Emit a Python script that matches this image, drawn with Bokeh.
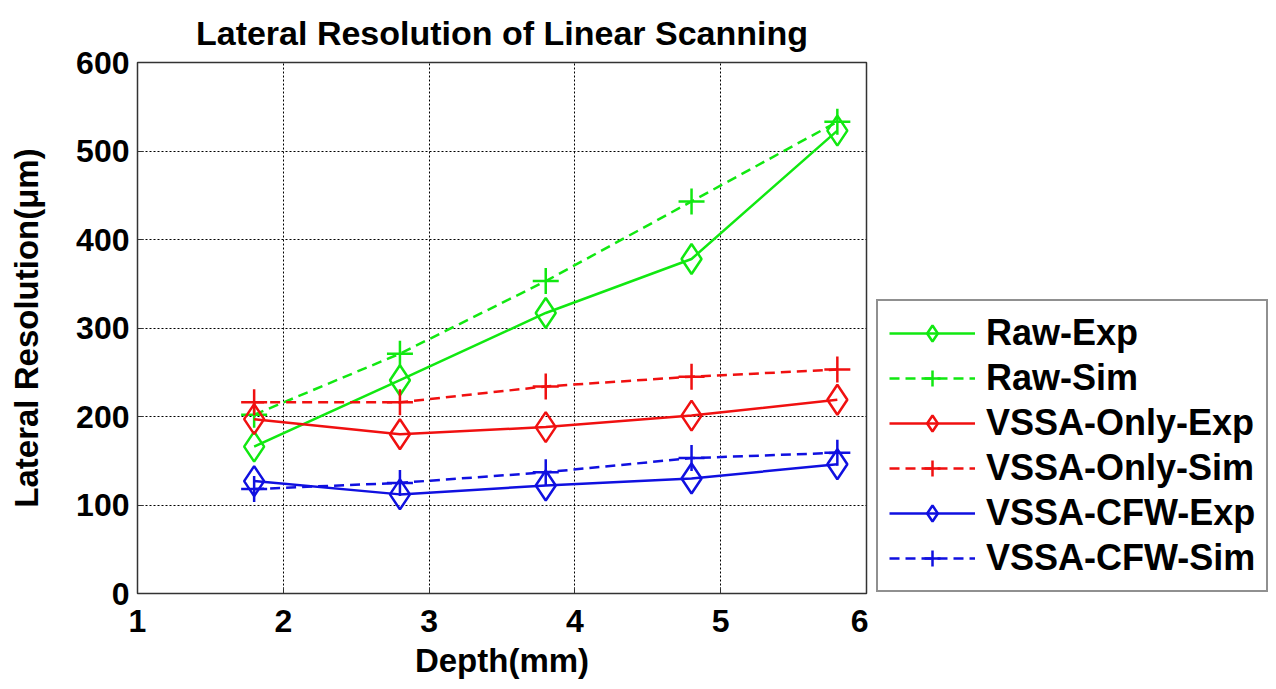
from bokeh.plotting import figure
from bokeh.models import Legend, LegendItem, FixedTicker, Range1d
from bokeh.layouts import row
from bokeh.embed import file_html
from bokeh.resources import INLINE

depth = [1.8, 2.8, 3.8, 4.8, 5.8]
raw_exp = [166, 241, 317, 378, 523]
raw_sim = [202, 271, 353, 443, 533]
vssa_only_exp = [197, 180, 188, 201, 219]
vssa_only_sim = [216, 216, 234, 245, 253]
vssa_cfw_exp = [127, 112, 122, 130, 146]
vssa_cfw_sim = [118, 125, 137, 153, 159]

series = [
    ("Raw-Exp", raw_exp, "#11e811", "solid", "diamond"),
    ("Raw-Sim", raw_sim, "#11e811", "10 6", "cross"),
    ("VSSA-Only-Exp", vssa_only_exp, "#f01010", "solid", "diamond"),
    ("VSSA-Only-Sim", vssa_only_sim, "#f01010", "10 6", "cross"),
    ("VSSA-CFW-Exp", vssa_cfw_exp, "#1010e0", "solid", "diamond"),
    ("VSSA-CFW-Sim", vssa_cfw_sim, "#1010e0", "10 6", "cross"),
]

FONT = "Liberation Sans"
H = 689

p = figure(width=868, height=H, output_backend="svg", toolbar_location=None,
           x_range=Range1d(1, 6), y_range=Range1d(0, 600),
           min_border_left=137, min_border_right=2, min_border_top=62,
           min_border_bottom=96, title="Lateral Resolution of Linear Scanning")
p.title.text_font = FONT
p.title.text_font_size = "34px"
p.title.text_font_style = "bold"
p.title.align = "center"
p.title.text_color = "black"
p.title.standoff = 22

p.outline_line_color = "#333333"
p.outline_line_width = 1.5

for ax in (p.xaxis[0], p.yaxis[0]):
    ax.major_label_text_font = FONT
    ax.major_label_text_font_size = "32px"
    ax.major_label_text_font_style = "bold"
    ax.major_label_text_color = "black"
    ax.axis_label_text_font = FONT
    ax.axis_label_text_font_size = "33px"
    ax.axis_label_text_font_style = "bold"
    ax.axis_label_text_color = "black"
    ax.major_tick_in = 6
    ax.major_tick_out = 0
    ax.minor_tick_line_color = None
    ax.axis_line_color = "#333333"
    ax.major_tick_line_color = "#333333"

p.xaxis[0].ticker = FixedTicker(ticks=[1, 2, 3, 4, 5, 6])
p.yaxis[0].ticker = FixedTicker(ticks=[0, 100, 200, 300, 400, 500, 600])
p.xaxis[0].axis_label = "Depth(mm)"
p.yaxis[0].axis_label = "Lateral Resolution(\u03bcm)"
p.xaxis[0].major_label_standoff = 16
p.xaxis[0].axis_label_standoff = 7
p.yaxis[0].major_label_standoff = 8
p.yaxis[0].axis_label_standoff = 28

p.xgrid.ticker = FixedTicker(ticks=[2, 3, 4, 5])
p.ygrid.ticker = FixedTicker(ticks=[100, 200, 300, 400, 500])
for g in (p.xgrid[0], p.ygrid[0]):
    g.grid_line_color = "black"
    g.grid_line_dash = "2 2"
    g.grid_line_width = 1

# legend-only figure (same series drawn out of view so only the legend shows)
q = figure(width=400, height=H, output_backend="svg", toolbar_location=None,
           x_range=Range1d(100, 101), y_range=Range1d(100000, 100001),
           x_axis_type=None, y_axis_type=None,
           min_border_left=0, min_border_right=0, min_border_top=0, min_border_bottom=0)
q.outline_line_color = None
q.xgrid.visible = False
q.ygrid.visible = False

items = []
for name, vals, color, dash, marker in series:
    for fig in (p, q):
        ln = fig.line(depth, vals, line_color=color, line_width=2.5, line_dash=dash)
        if marker == "diamond":
            sc = fig.scatter(depth, vals, marker="diamond", size=30, fill_color=None,
                             line_color=color, line_width=2.5)
        else:
            sc = fig.scatter(depth, vals, marker="cross", size=26, line_color=color,
                             line_width=2.5)
    items.append(LegendItem(label=name, renderers=[ln, sc]))

legend = Legend(items=items, location=(8, 1))
legend.label_text_font = FONT
legend.label_text_font_size = "36px"
legend.label_text_font_style = "bold"
legend.label_text_color = "black"
legend.glyph_width = 86
legend.glyph_height = 40
legend.label_height = 40
legend.spacing = 3
legend.padding = 11
legend.label_standoff = 11
legend.border_line_color = "#222222"
legend.border_line_width = 2
legend.background_fill_color = "white"
legend.background_fill_alpha = 1
legend.margin = 0
q.add_layout(legend, "center")

layout = row(p, q, spacing=0)
open("out.html", "w").write(file_html(layout, INLINE))
